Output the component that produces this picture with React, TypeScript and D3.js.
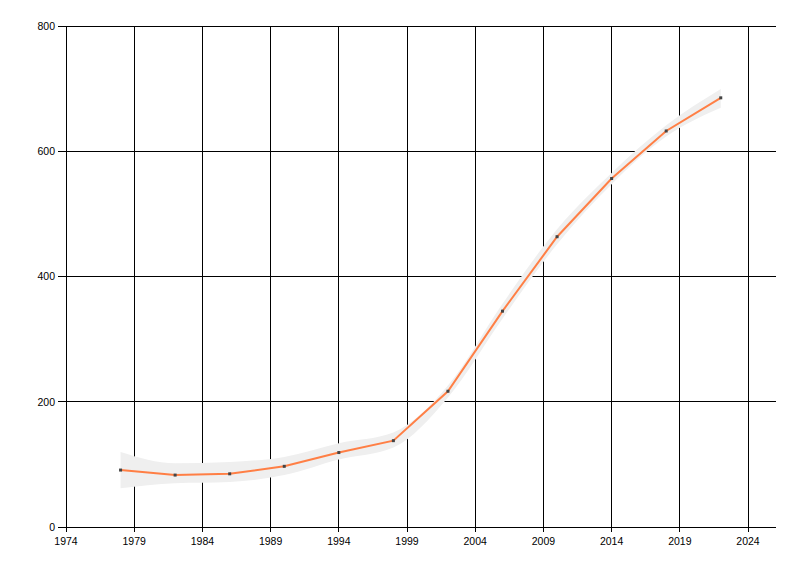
import React from "react";
import * as d3 from "d3";

const years = [1978, 1982, 1986, 1990, 1994, 1998, 2002, 2006, 2010, 2014, 2018, 2022];
const values = [91, 83, 85, 97, 119, 138, 217, 345, 464, 557, 633, 686];
const upper = [120, 102, 104, 112, 134, 151, 226, 357, 476, 566, 642, 700];
const lower = [62, 70, 72, 83, 108, 127, 207, 333, 452, 548, 624, 670];
const xTicks = [1974, 1979, 1984, 1989, 1994, 1999, 2004, 2009, 2014, 2019, 2024];
const yTicks = [0, 200, 400, 600, 800];

const W = 800;
const H = 576;
const left = 66;
const right = 776;
const top = 26.5;
const bottom = 527;

export default function App() {
  const x = d3.scaleLinear().domain([1974, 2026.05]).range([left, right]);
  const y = d3.scaleLinear().domain([0, 800]).range([bottom, top]);

  const pts = years.map((yr, i) => ({ yr, v: values[i], u: upper[i], l: lower[i] }));
  const area = d3
    .area<any>()
    .x((d) => x(d.yr))
    .y0((d) => y(d.l))
    .y1((d) => y(d.u))
    .curve(d3.curveMonotoneX);
  const line = d3
    .line<any>()
    .x((d) => x(d.yr))
    .y((d) => y(d.v));

  const font = "'Liberation Sans', Arial, sans-serif";

  return (
    <svg width={W} height={H} style={{ position: "absolute", left: 0, top: 0 }}>
      <rect x={0} y={0} width={W} height={H} fill="#fff" />
      {xTicks.map((t) => (
        <line key={"gx" + t} x1={x(t)} x2={x(t)} y1={top} y2={bottom} stroke="#000" strokeWidth={1} shapeRendering="crispEdges" />
      ))}
      {yTicks.map((t) => (
        <line key={"gy" + t} x1={left} x2={right} y1={y(t)} y2={y(t)} stroke="#000" strokeWidth={1} shapeRendering="crispEdges" />
      ))}
      <path d={area(pts) || ""} fill="#efefef" />
      <path d={line(pts) || ""} fill="none" stroke="#ff7f45" strokeWidth={2} />
      {pts.map((d) => (
        <rect key={"p" + d.yr} x={x(d.yr) - 1.5} y={y(d.v) - 1.5} width={3} height={3} fill="#444" />
      ))}
      <line x1={left} x2={left} y1={top} y2={bottom} stroke="#000" shapeRendering="crispEdges" />
      <line x1={left} x2={right} y1={bottom} y2={bottom} stroke="#000" shapeRendering="crispEdges" />
      {yTicks.map((t) => (
        <g key={"ty" + t}>
          <line x1={left - 8} x2={left} y1={y(t)} y2={y(t)} stroke="#000" shapeRendering="crispEdges" />
          <text x={left - 11} y={y(t)} dy="0.35em" textAnchor="end" fontSize={10.5} fontFamily={font} fill="#000">
            {t}
          </text>
        </g>
      ))}
      {xTicks.map((t) => (
        <g key={"tx" + t}>
          <line x1={x(t)} x2={x(t)} y1={bottom} y2={bottom + 5} stroke="#000" shapeRendering="crispEdges" />
          <text x={x(t)} y={bottom + 18} textAnchor="middle" fontSize={10.5} fontFamily={font} fill="#000">
            {t}
          </text>
        </g>
      ))}
    </svg>
  );
}
